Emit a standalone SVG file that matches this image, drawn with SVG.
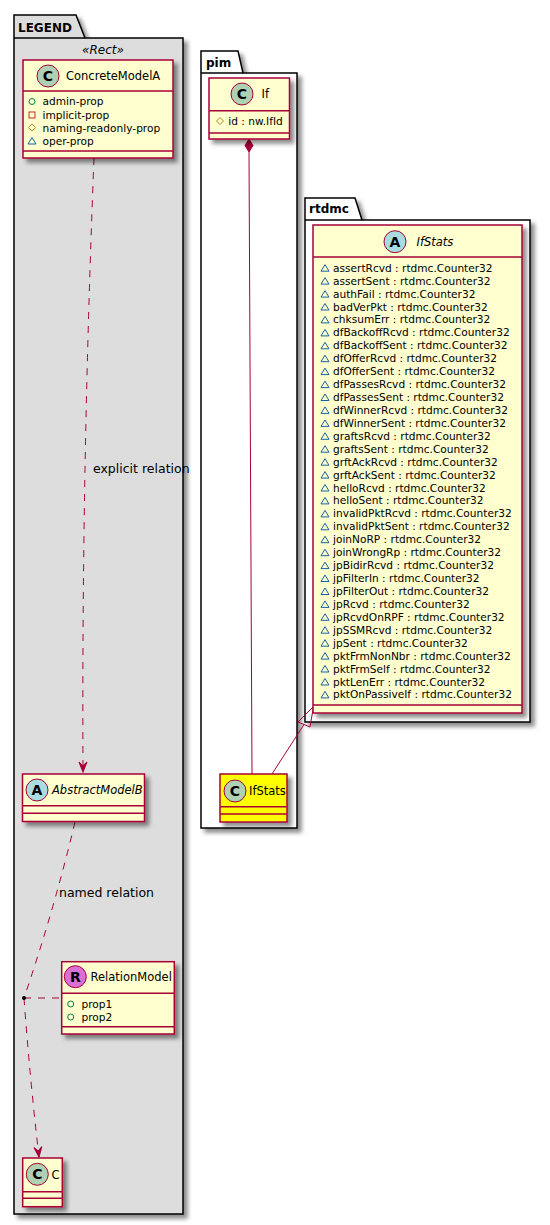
<svg xmlns="http://www.w3.org/2000/svg" xmlns:xlink="http://www.w3.org/1999/xlink" width="550" height="1225" viewBox="0 0 550 1225">
<style>
text{font-family:"DejaVu Sans","Liberation Sans",sans-serif;fill:#000}
.nm{font-size:11.5px}
.it{font-style:italic}
.at{font-size:10.6px}
.pk{font-size:12px;font-weight:bold}
.lb{font-size:12.5px}
.st{font-size:12px;font-style:italic}
.ci{font-size:14px;font-weight:bold;text-anchor:middle}
.pkg{stroke:#000;stroke-width:1.5;fill:#fff}
.box{fill:#FEFECE;stroke:#A80036;stroke-width:1.5}
.sep{stroke:#A80036;stroke-width:1.5}
.circ{stroke:#A80036;stroke-width:1}
.cn{fill:none;stroke:#A80036;stroke-width:1}
.dash{stroke-dasharray:7,7}
.tri{fill:none;stroke:#1963A0;stroke-width:1}
</style>
<defs>
<filter id="sh" x="-20%" y="-20%" width="140%" height="140%">
<feGaussianBlur in="SourceAlpha" stdDeviation="2" result="b"/>
<feColorMatrix in="b" type="matrix" values="0 0 0 0 0 0 0 0 0 0 0 0 0 0 0 0 0 0 0.45 0" result="c"/>
<feOffset in="c" dx="4" dy="4" result="o"/>
<feMerge><feMergeNode in="o"/><feMergeNode in="SourceGraphic"/></feMerge>
</filter>
<marker id="arr" viewBox="-11 -5 12 10" refX="0" refY="0" markerWidth="12" markerHeight="10" markerUnits="userSpaceOnUse" orient="auto">
<path d="M0,0 L-10,-4 L-6,0 L-10,4 Z" fill="#A80036" stroke="#A80036" stroke-width="1"/>
</marker>
<path id="t" class="tri" d="M0,-3.5 L4,3 L-4,3 Z"/>
</defs>

<g id="pkg-legend">
<path class="pkg" filter="url(#sh)" style="fill:#DDDDDD" d="M14,15 L76,15 L85,38 L183,38 L183,1214 L14,1214 Z"/>
<line x1="14" y1="38" x2="85" y2="38" stroke="#000" stroke-width="1.5"/>
<text class="pk" x="18" y="32">LEGEND</text>
<text class="st" x="103" y="54" text-anchor="middle">«Rect»</text>
</g>
<g id="pkg-pim">
<path class="pkg" filter="url(#sh)" d="M201,51 L238,51 L243,73 L297,73 L297,828 L201,828 Z"/>
<line x1="201" y1="73" x2="243" y2="73" stroke="#000" stroke-width="1.5"/>
<text class="pk" x="206" y="67">pim</text>
</g>
<g id="pkg-rtdmc">
<path class="pkg" filter="url(#sh)" d="M305,198 L355,198 L362,220 L530,220 L530,722 L305,722 Z"/>
<line x1="305" y1="220" x2="362" y2="220" stroke="#000" stroke-width="1.5"/>
<text class="pk" x="309" y="213">rtdmc</text>
</g>

<g id="connectors">
<path class="cn dash" d="M94,158 Q81.5,475 83,772" marker-end="url(#arr)"/>
<text class="lb" x="93" y="473">explicit relation</text>
<path class="cn dash" d="M75,822 Q54,910 24,998"/>
<path class="cn dash" d="M24,998 Q30,1080 39,1157" marker-end="url(#arr)"/>
<line class="cn dash" x1="24" y1="998" x2="62" y2="998"/>
<circle cx="24" cy="998" r="2" fill="#000"/>
<text class="lb" x="59" y="897">named relation</text>
<line class="cn" x1="249" y1="152" x2="252" y2="774"/>
<path d="M249,139 L245,145.5 L249,152 L253,145.5 Z" fill="#A80036" stroke="#A80036" stroke-width="1"/>
<line class="cn" x1="272" y1="774" x2="304" y2="724.5"/>
<path d="M313.5,706.5 L298,722 L310,727 Z" fill="none" stroke="#A80036" stroke-width="1"/>
</g>

<g id="ConcreteModelA">
<rect class="box" filter="url(#sh)" x="23" y="60" width="150" height="98"/>
<circle class="circ" cx="48" cy="76" r="11" fill="#ADD1B2"/>
<text class="ci" x="48" y="81">C</text>
<text class="nm" x="66" y="80">ConcreteModelA</text>
<line class="sep" x1="23" y1="91" x2="173" y2="91"/>
<circle cx="32" cy="101.5" r="3" fill="none" stroke="#038048" stroke-width="1"/>
<text class="at" x="42.5" y="105">admin-prop</text>
<rect x="29" y="112" width="6" height="6" fill="none" stroke="#C82930" stroke-width="1"/>
<text class="at" x="42.5" y="118.5">implicit-prop</text>
<path d="M32,124 L35.5,127.5 L32,131 L28.5,127.5 Z" fill="none" stroke="#B38D22" stroke-width="1"/>
<text class="at" x="42.5" y="131.5">naming-readonly-prop</text>
<use href="#t" x="32" y="141"/>
<text class="at" x="42.5" y="144.5">oper-prop</text>
<line class="sep" x1="23" y1="151" x2="173" y2="151"/>
</g>

<g id="AbstractModelB">
<rect class="box" filter="url(#sh)" x="22.5" y="774" width="122" height="47.5"/>
<circle class="circ" cx="37" cy="790" r="11" fill="#A9DCDF"/>
<text class="ci" x="37" y="795">A</text>
<text class="nm it" x="52" y="794">AbstractModelB</text>
<line class="sep" x1="22.5" y1="805.7" x2="144.5" y2="805.7"/>
<line class="sep" x1="22.5" y1="813.3" x2="144.5" y2="813.3"/>
</g>

<g id="RelationModel">
<rect class="box" filter="url(#sh)" x="61.7" y="961.7" width="112.6" height="72.3"/>
<circle class="circ" cx="75.3" cy="976.7" r="11" fill="#DA70D6"/>
<text class="ci" x="75.3" y="981.7">R</text>
<text class="nm" x="90.5" y="981">RelationModel</text>
<line class="sep" x1="61.7" y1="993.3" x2="174.3" y2="993.3"/>
<circle cx="70.7" cy="1004" r="3" fill="none" stroke="#038048" stroke-width="1"/>
<text class="at" x="81.5" y="1007.5">prop1</text>
<circle cx="70.7" cy="1017" r="3" fill="none" stroke="#038048" stroke-width="1"/>
<text class="at" x="81.5" y="1020.5">prop2</text>
<line class="sep" x1="61.7" y1="1026.7" x2="174.3" y2="1026.7"/>
</g>

<g id="C">
<rect class="box" filter="url(#sh)" x="22.7" y="1158" width="39.6" height="48.7"/>
<circle class="circ" cx="37.3" cy="1174.3" r="11" fill="#ADD1B2"/>
<text class="ci" x="37.3" y="1179.3">C</text>
<text class="nm" x="51.5" y="1178.5">C</text>
<line class="sep" x1="22.7" y1="1191.7" x2="62.3" y2="1191.7"/>
<line class="sep" x1="22.7" y1="1198.3" x2="62.3" y2="1198.3"/>
</g>

<g id="If">
<rect class="box" filter="url(#sh)" x="209" y="78" width="80.5" height="61"/>
<circle class="circ" cx="242" cy="94" r="11" fill="#ADD1B2"/>
<text class="ci" x="242" y="99">C</text>
<text class="nm" x="261.5" y="98">If</text>
<line class="sep" x1="209" y1="110.7" x2="289.5" y2="110.7"/>
<path d="M220,117.5 L223.5,121 L220,124.5 L216.5,121 Z" fill="none" stroke="#B38D22" stroke-width="1"/>
<text class="at" x="228.3" y="124.5">id : nw.IfId</text>
<line class="sep" x1="209" y1="133" x2="289.5" y2="133"/>
</g>

<g id="IfStats-pim">
<rect class="box" filter="url(#sh)" style="fill:#FFFF00" x="220" y="774" width="67" height="48"/>
<circle class="circ" cx="235" cy="791" r="11" fill="#ADD1B2"/>
<text class="ci" x="235" y="796">C</text>
<text class="nm" x="249" y="795">IfStats</text>
<line class="sep" x1="220" y1="806.7" x2="287" y2="806.7"/>
<line class="sep" x1="220" y1="814" x2="287" y2="814"/>
</g>

<g id="IfStats-rtdmc">
<rect class="box" filter="url(#sh)" x="313" y="225" width="209" height="488"/>
<circle class="circ" cx="395" cy="241.7" r="11" fill="#A9DCDF"/>
<text class="ci" x="395" y="246.7">A</text>
<text class="nm it" x="416.5" y="246">IfStats</text>
<line class="sep" x1="313" y1="257" x2="522" y2="257"/>
<use href="#t" x="325" y="268.2"/><text class="at" x="333" y="271.7">assertRcvd : rtdmc.Counter32</text>
<use href="#t" x="325" y="281.1"/><text class="at" x="333" y="284.6">assertSent : rtdmc.Counter32</text>
<use href="#t" x="325" y="294.1"/><text class="at" x="333" y="297.6">authFail : rtdmc.Counter32</text>
<use href="#t" x="325" y="307.0"/><text class="at" x="333" y="310.5">badVerPkt : rtdmc.Counter32</text>
<use href="#t" x="325" y="319.9"/><text class="at" x="333" y="323.4">chksumErr : rtdmc.Counter32</text>
<use href="#t" x="325" y="332.9"/><text class="at" x="333" y="336.4">dfBackoffRcvd : rtdmc.Counter32</text>
<use href="#t" x="325" y="345.8"/><text class="at" x="333" y="349.3">dfBackoffSent : rtdmc.Counter32</text>
<use href="#t" x="325" y="358.7"/><text class="at" x="333" y="362.2">dfOfferRcvd : rtdmc.Counter32</text>
<use href="#t" x="325" y="371.6"/><text class="at" x="333" y="375.1">dfOfferSent : rtdmc.Counter32</text>
<use href="#t" x="325" y="384.6"/><text class="at" x="333" y="388.1">dfPassesRcvd : rtdmc.Counter32</text>
<use href="#t" x="325" y="397.5"/><text class="at" x="333" y="401.0">dfPassesSent : rtdmc.Counter32</text>
<use href="#t" x="325" y="410.4"/><text class="at" x="333" y="413.9">dfWinnerRcvd : rtdmc.Counter32</text>
<use href="#t" x="325" y="423.4"/><text class="at" x="333" y="426.9">dfWinnerSent : rtdmc.Counter32</text>
<use href="#t" x="325" y="436.3"/><text class="at" x="333" y="439.8">graftsRcvd : rtdmc.Counter32</text>
<use href="#t" x="325" y="449.2"/><text class="at" x="333" y="452.7">graftsSent : rtdmc.Counter32</text>
<use href="#t" x="325" y="462.2"/><text class="at" x="333" y="465.7">grftAckRcvd : rtdmc.Counter32</text>
<use href="#t" x="325" y="475.1"/><text class="at" x="333" y="478.6">grftAckSent : rtdmc.Counter32</text>
<use href="#t" x="325" y="488.0"/><text class="at" x="333" y="491.5">helloRcvd : rtdmc.Counter32</text>
<use href="#t" x="325" y="500.9"/><text class="at" x="333" y="504.4">helloSent : rtdmc.Counter32</text>
<use href="#t" x="325" y="513.9"/><text class="at" x="333" y="517.4">invalidPktRcvd : rtdmc.Counter32</text>
<use href="#t" x="325" y="526.8"/><text class="at" x="333" y="530.3">invalidPktSent : rtdmc.Counter32</text>
<use href="#t" x="325" y="539.7"/><text class="at" x="333" y="543.2">joinNoRP : rtdmc.Counter32</text>
<use href="#t" x="325" y="552.7"/><text class="at" x="333" y="556.2">joinWrongRp : rtdmc.Counter32</text>
<use href="#t" x="325" y="565.6"/><text class="at" x="333" y="569.1">jpBidirRcvd : rtdmc.Counter32</text>
<use href="#t" x="325" y="578.5"/><text class="at" x="333" y="582.0">jpFilterIn : rtdmc.Counter32</text>
<use href="#t" x="325" y="591.5"/><text class="at" x="333" y="595.0">jpFilterOut : rtdmc.Counter32</text>
<use href="#t" x="325" y="604.4"/><text class="at" x="333" y="607.9">jpRcvd : rtdmc.Counter32</text>
<use href="#t" x="325" y="617.3"/><text class="at" x="333" y="620.8">jpRcvdOnRPF : rtdmc.Counter32</text>
<use href="#t" x="325" y="630.2"/><text class="at" x="333" y="633.7">jpSSMRcvd : rtdmc.Counter32</text>
<use href="#t" x="325" y="643.2"/><text class="at" x="333" y="646.7">jpSent : rtdmc.Counter32</text>
<use href="#t" x="325" y="656.1"/><text class="at" x="333" y="659.6">pktFrmNonNbr : rtdmc.Counter32</text>
<use href="#t" x="325" y="669.0"/><text class="at" x="333" y="672.5">pktFrmSelf : rtdmc.Counter32</text>
<use href="#t" x="325" y="682.0"/><text class="at" x="333" y="685.5">pktLenErr : rtdmc.Counter32</text>
<use href="#t" x="325" y="694.9"/><text class="at" x="333" y="698.4">pktOnPassiveIf : rtdmc.Counter32</text>
<line class="sep" x1="313" y1="705" x2="522" y2="705"/>
</g>
</svg>
